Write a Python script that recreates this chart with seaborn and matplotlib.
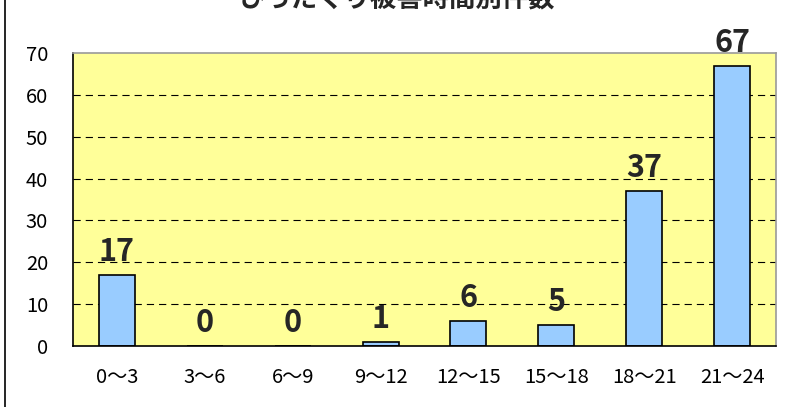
import matplotlib
matplotlib.use("Agg")
import matplotlib.pyplot as plt
import seaborn as sns
import pandas as pd
from matplotlib.lines import Line2D

categories = ["0～3", "3～6", "6～9", "9～12", "12～15", "15～18", "18～21", "21～24"]
values = [17, 0, 0, 1, 6, 5, 37, 67]
yticks = [0, 10, 20, 30, 40, 50, 60, 70]
title = "ひったくり被害時間別件数"

sns.set_theme(style="white")
plt.rcParams['font.family'] = ['Noto Sans CJK JP', 'DejaVu Sans']

df = pd.DataFrame({"time": categories, "count": values})

W, H = 787, 407
fig = plt.figure(figsize=(W / 100, H / 100), dpi=100)
fig.patch.set_facecolor("white")
ax = fig.add_axes([73 / W, 1 - 346 / H, (776 - 73) / W, (346 - 53) / H])
ax.set_facecolor("#FFFF99")

sns.barplot(data=df, x="time", y="count", ax=ax, color="#99CCFF",
            edgecolor="black", linewidth=1.2, width=0.41, saturation=1)

ax.set_ylim(0, 70)
ax.set_yticks(yticks)
ax.set_yticklabels([str(t) for t in yticks], fontsize=14.5, color="black")
ax.tick_params(axis="y", length=0, pad=18)
ax.tick_params(axis="x", length=0, pad=15, labelsize=14.5, labelcolor="black")
ax.set_xlabel("")
ax.set_ylabel("")
ax.set_axisbelow(True)
for t in yticks[1:-1]:
    ax.axhline(t, color="black", linestyle=(0, (6.5, 4.5)), linewidth=0.8, zorder=0.5)

for side in ["left", "bottom"]:
    ax.spines[side].set_color("black")
    ax.spines[side].set_linewidth(1.2)
for side in ["top", "right"]:
    ax.spines[side].set_color("#999999")
    ax.spines[side].set_linewidth(1.2)

for i, v in enumerate(values):
    ax.annotate(str(v), (i, v), xytext=(0, 5), textcoords="offset points",
                ha="center", va="bottom", fontsize=22, fontweight="bold")

fig.text(397 / W, 1 - 0 / H, title, ha="center", va="center",
         fontsize=19, fontweight="bold")

fig.add_artist(Line2D([4.5 / W, 4.5 / W], [0, 1], transform=fig.transFigure,
                      color="black", linewidth=1.2))

fig.savefig("out.png", dpi=100)
